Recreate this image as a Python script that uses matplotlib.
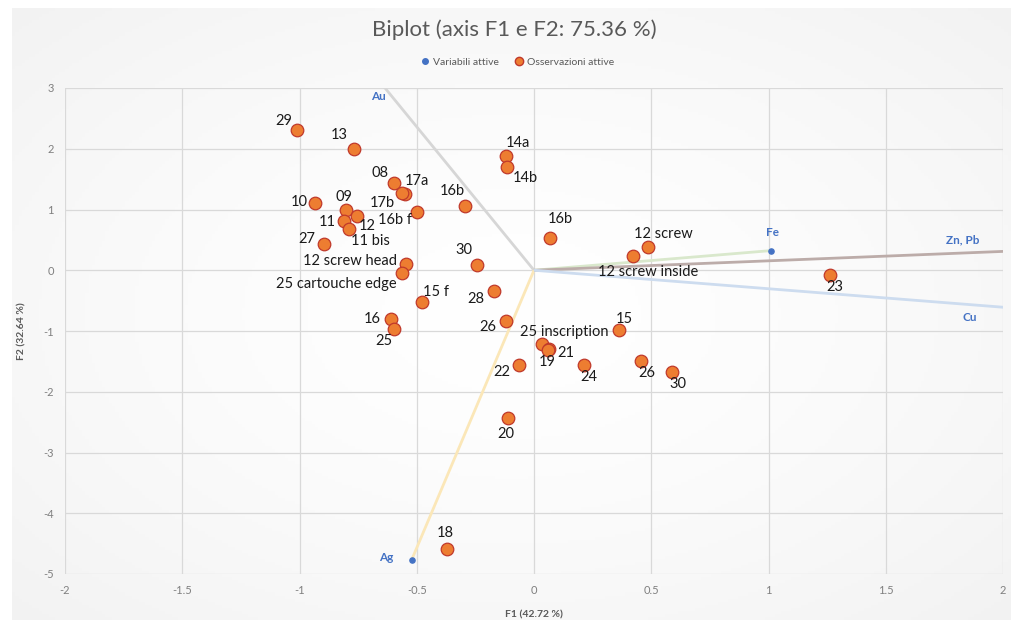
import numpy as np
import matplotlib
matplotlib.use("Agg")
import matplotlib.pyplot as plt
from matplotlib.lines import Line2D

plt.rcParams['font.family'] = ['Lato', 'DejaVu Sans']

# Observations (F1, F2)
obs_labels = ["29", "13", "14a", "14b", "08", "17a", "17b", "10", "16b", "16b f",
              "09", "12", "11", "11 bis", "27", "12 screw head", "25 cartouche edge",
              "30", "15 f", "28", "16", "25", "26", "22", "16b", "12 screw",
              "12 screw inside", "25 inscription", "21", "19", "15", "24", "26",
              "30", "20", "23", "18"]
obs_f1 = [-1.009, -0.766, -0.118, -0.114, -0.597, -0.549, -0.564, -0.934, -0.294, -0.498,
          -0.803, -0.755, -0.809, -0.789, -0.896, -0.545, -0.562,
          -0.242, -0.476, -0.172, -0.610, -0.596, -0.121, -0.063, 0.070, 0.486,
          0.422, 0.034, 0.062, 0.058, 0.364, 0.213, 0.458,
          0.587, -0.110, 1.261, -0.370]
obs_f2 = [2.316, 1.990, 1.880, 1.700, 1.430, 1.260, 1.270, 1.110, 1.050, 0.955,
          0.993, 0.889, 0.818, 0.680, 0.440, 0.104, -0.044,
          0.088, -0.520, -0.346, -0.810, -0.960, -0.840, -1.560, 0.530, 0.380,
          0.236, -1.210, -1.290, -1.310, -0.977, -1.560, -1.490,
          -1.680, -2.430, -0.077, -4.590]

# Active variables (F1, F2)
var_labels = ["Au", "Ag", "Fe", "Zn, Pb", "Cu"]
var_f1 = [-0.72, -0.522, 1.012, 2.25, 2.30]
var_f2 = [3.40, -4.770, 0.324, 0.349, -0.70]

# Axis settings
x_ticks = [-2, -1.5, -1, -0.5, 0, 0.5, 1, 1.5, 2]
y_ticks = [3, 2, 1, 0, -1, -2, -3, -4, -5]

# Label placement: (dx, dy) in pixels from the point, horizontal alignment
obs_offsets = [(-14, 9, 'center'), (-15, 14, 'center'), (12, 13, 'center'), (18, -11, 'center'),
               (-14, 10, 'center'), (12, 13, 'center'), (-19, -10, 'center'), (-16, 1, 'center'),
               (-13, 15, 'center'), (-22, -8, 'center'), (-2, 13, 'center'), (10, -10, 'center'),
               (-17, -1, 'center'), (21, -12, 'center'), (-17, 5, 'center'), (-9, 3, 'right'),
               (-6, -11, 'right'), (-13, 15, 'center'), (14, 10, 'center'), (-18, -8, 'center'),
               (-19, 0, 'center'), (-10, -12, 'center'), (-18, -6, 'center'), (-17, -7, 'center'),
               (10, 19, 'center'), (15, 13, 'center'), (15, -16, 'center'), (22, 12, 'center'),
               (17, -4, 'center'), (0, -12, 'center'), (5, 11, 'center'), (5, -12, 'center'),
               (5, -12, 'center'), (6, -12, 'center'), (-2, -16, 'center'), (5, -12, 'center'),
               (-2, 16, 'center')]
var_colors = ['#d6d6d6', '#fbe7b8', '#d9e8cc', '#bcaca9', '#cddcef']

W, H = 1013, 628
fig = plt.figure(figsize=(W / 100, H / 100), dpi=100)
fig.patch.set_facecolor('white')

# Chart-area backdrop with soft radial shading
bg = fig.add_axes([12 / W, 1 - 620 / H, (1010 - 12) / W, (620 - 8) / H])
gx, gy = np.meshgrid(np.linspace(-1, 1, 300), np.linspace(-1, 1, 200))
r = np.clip(np.sqrt(gx ** 2 + gy ** 2) / 1.414, 0, 1)
shade = 1.0 - 0.05 * r ** 1.5
bg.imshow(np.dstack([shade, shade, shade]), aspect='auto', extent=[0, 1, 0, 1])
bg.set_axis_off()

ax = fig.add_axes([65 / W, 1 - 574 / H, (1003 - 65) / W, (574 - 88) / H])
ax.set_facecolor('none')
ax.set_xlim(-2, 2)
ax.set_ylim(-5, 3)
ax.set_xticks(x_ticks)
ax.set_yticks(y_ticks)
ax.set_xticklabels([f"{t:g}" for t in x_ticks])
ax.set_yticklabels([f"{t:g}" for t in y_ticks])
ax.grid(True, color='#d9d9d9', linewidth=0.9)
ax.set_axisbelow(True)
for s in ax.spines.values():
    s.set_visible(False)
ax.tick_params(length=0, labelsize=8, colors='#7f7f7f', pad=8)

# Variable vectors
for lab, vx, vy, c in zip(var_labels, var_f1, var_f2, var_colors):
    ax.plot([0, vx], [0, vy], color=c, linewidth=2.0, solid_capstyle='butt', zorder=2)

ax.scatter(var_f1, var_f2, s=14, color='#4472c4', zorder=4, clip_on=True)


def clip_point(vx, vy):
    t = 1.0
    if vx > 2:
        t = min(t, 2 / vx)
    if vx < -2:
        t = min(t, -2 / vx)
    if vy > 3:
        t = min(t, 3 / vy)
    if vy < -5:
        t = min(t, -5 / vy)
    return vx * t, vy * t


var_offsets = {"Au": (-7, -9), "Ag": (-25, 3), "Fe": (1, 18), "Zn, Pb": (-40, 12), "Cu": (-33, -10)}
for lab, vx, vy in zip(var_labels, var_f1, var_f2):
    px, py = clip_point(vx, vy)
    dx, dy = var_offsets[lab]
    ax.annotate(lab, (px, py), xytext=(dx * 0.72, dy * 0.72), textcoords='offset points',
                ha='center', va='center', fontsize=8.5, fontweight='bold', color='#4472c4',
                zorder=5)

# Observations
ax.scatter(obs_f1, obs_f2, s=82, color='#ed7d31', edgecolors='#c0392b', linewidths=0.9,
           zorder=6)
for lab, x, y, (dx, dy, ha) in zip(obs_labels, obs_f1, obs_f2, obs_offsets):
    ax.annotate(lab, (x, y), xytext=(dx * 0.72, dy * 0.72), textcoords='offset points',
                ha=ha, va='center', fontsize=10.5, color='#1a1a1a', zorder=7)

ax.set_xlabel("F1 (42.72 %)", fontsize=7.5, color='#595959', fontweight='bold', labelpad=10)
ax.set_ylabel("F2 (32.64 %)", fontsize=7.5, color='#595959', fontweight='bold', labelpad=12)

fig.text(514 / W, 1 - 30 / H, "Biplot (axis F1 e F2: 75.36 %)", ha='center', va='center',
         fontsize=16, color='#595959')

handles = [Line2D([], [], marker='o', linestyle='none', markersize=4, color='#4472c4'),
           Line2D([], [], marker='o', linestyle='none', markersize=6,
                  markerfacecolor='#ed7d31', markeredgecolor='#c0392b')]
fig.legend(handles, ["Variabili attive", "Osservazioni attive"], loc='center',
           bbox_to_anchor=(517 / W, 1 - 62 / H), ncol=2, frameon=False, fontsize=7.5,
           labelcolor='#595959', handletextpad=0.2, columnspacing=1.5, handlelength=1.0)

fig.savefig("out.png", dpi=100)
